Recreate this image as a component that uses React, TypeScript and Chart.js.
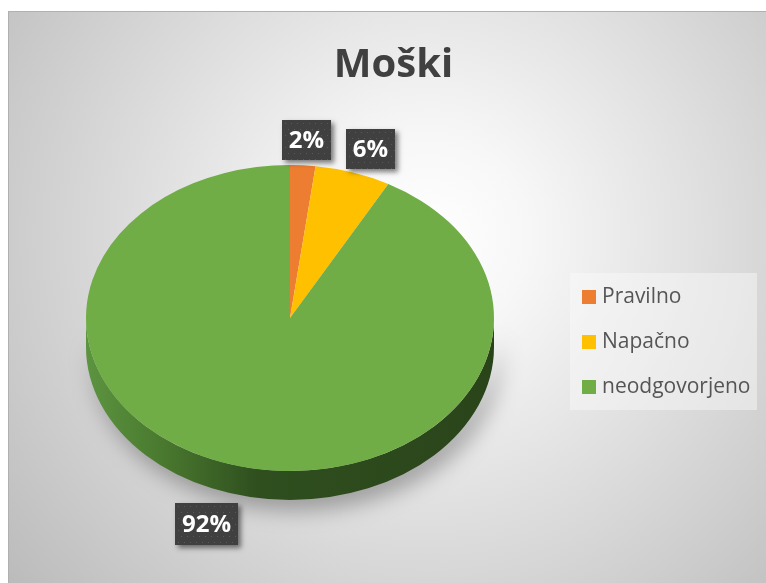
import { useEffect, useRef } from 'react';
import { Chart, registerables } from 'chart.js';

Chart.register(...registerables);

const chartTitle = 'Moški';
const categories = ['Pravilno', 'Napačno', 'neodgovorjeno'];
const values = [2, 6, 92];
const sliceColors = ['#ED7D31', '#FFC000', '#70AD47'];

const W = 758;
const H = 572;
const SQUASH = 0.75;
const DEPTH = 29;

const pie3d = {
  id: 'pie3d',
  beforeDraw(chart: any) {
    const ctx = chart.ctx as CanvasRenderingContext2D;
    ctx.save();
    const g = ctx.createRadialGradient(420, 225, 0, 420, 225, 560);
    g.addColorStop(0, '#ffffff');
    g.addColorStop(0.18, '#f7f7f7');
    g.addColorStop(1, '#b9b9b9');
    ctx.fillStyle = g;
    ctx.fillRect(0, 0, W, H);
    ctx.strokeStyle = '#b0b0b0';
    ctx.lineWidth = 1;
    ctx.strokeRect(0.5, 0.5, W, H);

    // title
    ctx.font = 'bold 40px "Open Sans"';
    ctx.fillStyle = '#404040';
    ctx.textAlign = 'center';
    ctx.textBaseline = 'alphabetic';
    ctx.fillText(chartTitle, 385.5, 66);

    // legend
    ctx.fillStyle = 'rgba(250,250,250,0.45)';
    ctx.fillRect(562, 262, 187, 137);
    ctx.font = '21px "Open Sans"';
    ctx.textAlign = 'left';
    ctx.textBaseline = 'middle';
    const colors = chart.data.datasets[0].backgroundColor;
    chart.data.labels.forEach((lab: string, i: number) => {
      const yc = 286 + i * 45;
      ctx.fillStyle = colors[i];
      ctx.fillRect(574, yc - 7, 14, 14);
      ctx.fillStyle = '#555555';
      ctx.fillText(lab, 594, yc);
    });
    ctx.restore();
  },
  beforeDatasetsDraw(chart: any) {
    const ctx = chart.ctx as CanvasRenderingContext2D;
    const arc = chart.getDatasetMeta(0).data[0];
    const cx = arc.x;
    const cy = arc.y;
    const rx = arc.outerRadius;
    const ry = rx * SQUASH;
    ctx.save();
    ctx.beginPath();
    ctx.ellipse(cx, cy, rx, ry, 0, 0, Math.PI, false);
    ctx.lineTo(cx - rx, cy + DEPTH);
    ctx.ellipse(cx, cy + DEPTH, rx, ry, 0, Math.PI, 0, true);
    ctx.closePath();
    const lg = ctx.createLinearGradient(cx - rx, 0, cx + rx, 0);
    lg.addColorStop(0, '#5c9440');
    lg.addColorStop(0.18, '#4a7a2f');
    lg.addColorStop(0.42, '#2f4f1f');
    lg.addColorStop(1, '#2a441a');
    ctx.fillStyle = lg;
    ctx.shadowColor = 'rgba(0,0,0,0.32)';
    ctx.shadowBlur = 22;
    ctx.shadowOffsetX = 6;
    ctx.shadowOffsetY = 10;
    ctx.fill();
    ctx.restore();

    ctx.save();
    ctx.translate(cx, cy);
    ctx.scale(1, SQUASH);
    ctx.translate(-cx, -cy);
  },
  afterDatasetsDraw(chart: any) {
    const ctx = chart.ctx as CanvasRenderingContext2D;
    ctx.restore();
    const data = chart.data.datasets[0].data as number[];
    const total = data.reduce((a, b) => a + b, 0);
    chart.getDatasetMeta(0).data.forEach((a: any, i: number) => {
      const mid = (a.startAngle + a.endAngle) / 2;
      const c = Math.cos(mid);
      const s = Math.sin(mid);
      const lower = s > 0.5;
      const padX = lower ? 130 : 55;
      const padY = lower ? 30 : 25;
      const x = a.x + c * (a.outerRadius + padX);
      const y = a.y + s * (a.outerRadius * SQUASH + padY) + (lower ? DEPTH : 0);
      const text = Math.round((data[i] / total) * 100) + '%';
      ctx.save();
      ctx.font = 'bold 24px "Open Sans"';
      const tw = ctx.measureText(text).width;
      const bw = Math.round(tw + 14);
      const bh = lower ? 42 : 40;
      const bx = Math.round(x - bw / 2);
      const by = Math.round(y - bh / 2);
      ctx.shadowColor = 'rgba(0,0,0,0.5)';
      ctx.shadowBlur = 5;
      ctx.shadowOffsetX = 3;
      ctx.shadowOffsetY = 3;
      ctx.fillStyle = '#404040';
      ctx.fillRect(bx, by, bw, bh);
      ctx.shadowColor = 'transparent';
      ctx.fillStyle = 'rgba(255,255,255,0.13)';
      for (let yy = by + 3; yy < by + bh; yy += 6) {
        for (let xx = bx + 3 + ((((yy - by - 3) / 6) % 2) * 3); xx < bx + bw; xx += 6) {
          ctx.fillRect(xx, yy, 1, 1);
        }
      }
      ctx.fillStyle = '#ffffff';
      ctx.textAlign = 'center';
      ctx.textBaseline = 'middle';
      ctx.fillText(text, bx + bw / 2, by + bh / 2 + 1);
      ctx.restore();
    });
  },
};

export default function App() {
  const ref = useRef<HTMLCanvasElement>(null);
  useEffect(() => {
    document.body.style.overflow = 'hidden';
    const chart = new Chart(ref.current as HTMLCanvasElement, {
      type: 'pie',
      data: {
        labels: categories,
        datasets: [
          {
            data: values,
            backgroundColor: sliceColors,
            borderWidth: 0,
          },
        ],
      },
      options: {
        responsive: false,
        animation: false,
        events: [],
        layout: { padding: { left: 78, right: 272, top: 103, bottom: 61 } },
        plugins: {
          legend: { display: false },
          title: { display: false },
          tooltip: { enabled: false },
        },
      },
      plugins: [pie3d],
    });
    return () => chart.destroy();
  }, []);
  return (
    <div style={{ position: 'absolute', left: 8, top: 11, width: W, height: H }}>
      <canvas ref={ref} width={W} height={H} style={{ display: 'block' }} />
    </div>
  );
}
